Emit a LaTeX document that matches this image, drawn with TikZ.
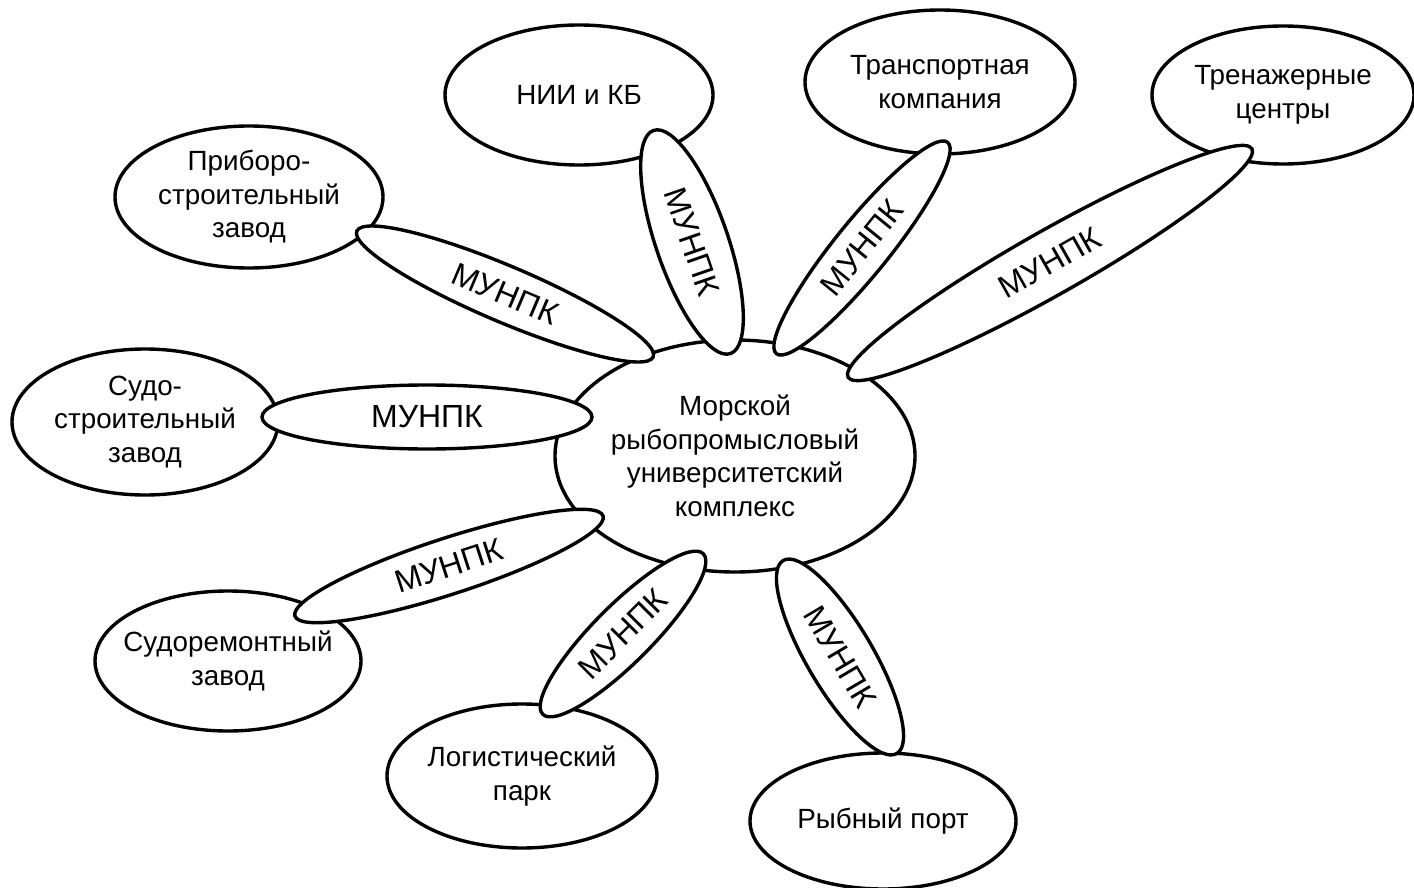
\documentclass[tikz,border=0pt]{standalone}
\usepackage{fontspec}
\setmainfont{Liberation Sans}
\usetikzlibrary{shapes.geometric}
\begin{document}
\begin{tikzpicture}[x=1pt,y=1pt,
  blob/.style={ellipse, draw=black, line width=3.4pt, fill=white,
    inner xsep=-30pt, inner ysep=0pt,
    align=center, font=\fontsize{27.8}{33.5}\selectfont},
  link/.style={ellipse, draw=black, line width=3.4pt, fill=white, inner sep=0pt,
    font=\fontsize{32}{36}\selectfont}]
\useasboundingbox[fill=white] (0,0) rectangle (1414,-888);

% central complex
\node[blob, minimum width=360pt, minimum height=232pt] (hub) at (735,-456)
  {Морской\\рыбопромысловый\\университетский\\комплекс};

% partner organisations
\node[blob, minimum width=268pt, minimum height=140pt] (nii) at (579,-95) {НИИ и КБ};
\node[blob, minimum width=270pt, minimum height=144pt] (trans) at (940,-82) {Транспортная\\компания};
\node[blob, minimum width=262pt, minimum height=138pt] (train) at (1283,-95) {Тренажерные\\центры};
\node[blob, minimum width=268pt, minimum height=142pt] (pribor) at (249,-197) {Приборо-\\строительный\\завод};
\node[blob, minimum width=266pt, minimum height=146pt] (ship) at (145,-422) {Судо-\\строительный\\завод};
\node[blob, minimum width=266pt, minimum height=140pt] (repair) at (228,-661) {Судоремонтный\\завод};
\node[blob, minimum width=270pt, minimum height=144pt] (logist) at (522,-776) {Логистический\\парк};
\node[blob, minimum width=266pt, minimum height=136pt] (port) at (883,-821) {Рыбный порт};

% МУНПК links between the complex and each partner
\node[link, rotate=-23, minimum width=322pt, minimum height=56pt] (lpribor) at (505,-294) {МУНПК};
\node[link, rotate=-71, minimum width=236pt, minimum height=72pt] (lnii) at (692,-242) {МУНПК};
\node[link, rotate=51, minimum width=272pt, minimum height=54pt] (ltrans) at (862,-248) {МУНПК};
\node[link, rotate=29.5, minimum width=464pt, minimum height=64pt] (ltrain) at (1050,-263) {МУНПК};
\node[link, minimum width=330pt, minimum height=64pt] (lship) at (427,-417) {МУНПК};
\node[link, rotate=18, minimum width=324pt, minimum height=56pt] (lrepair) at (449,-566) {МУНПК};
\node[link, rotate=45, minimum width=227pt, minimum height=58pt] (llogist) at (623,-634) {МУНПК};
\node[link, rotate=-59.5, minimum width=224pt, minimum height=66pt] (lport) at (840,-657) {МУНПК};
\end{tikzpicture}
\end{document}
